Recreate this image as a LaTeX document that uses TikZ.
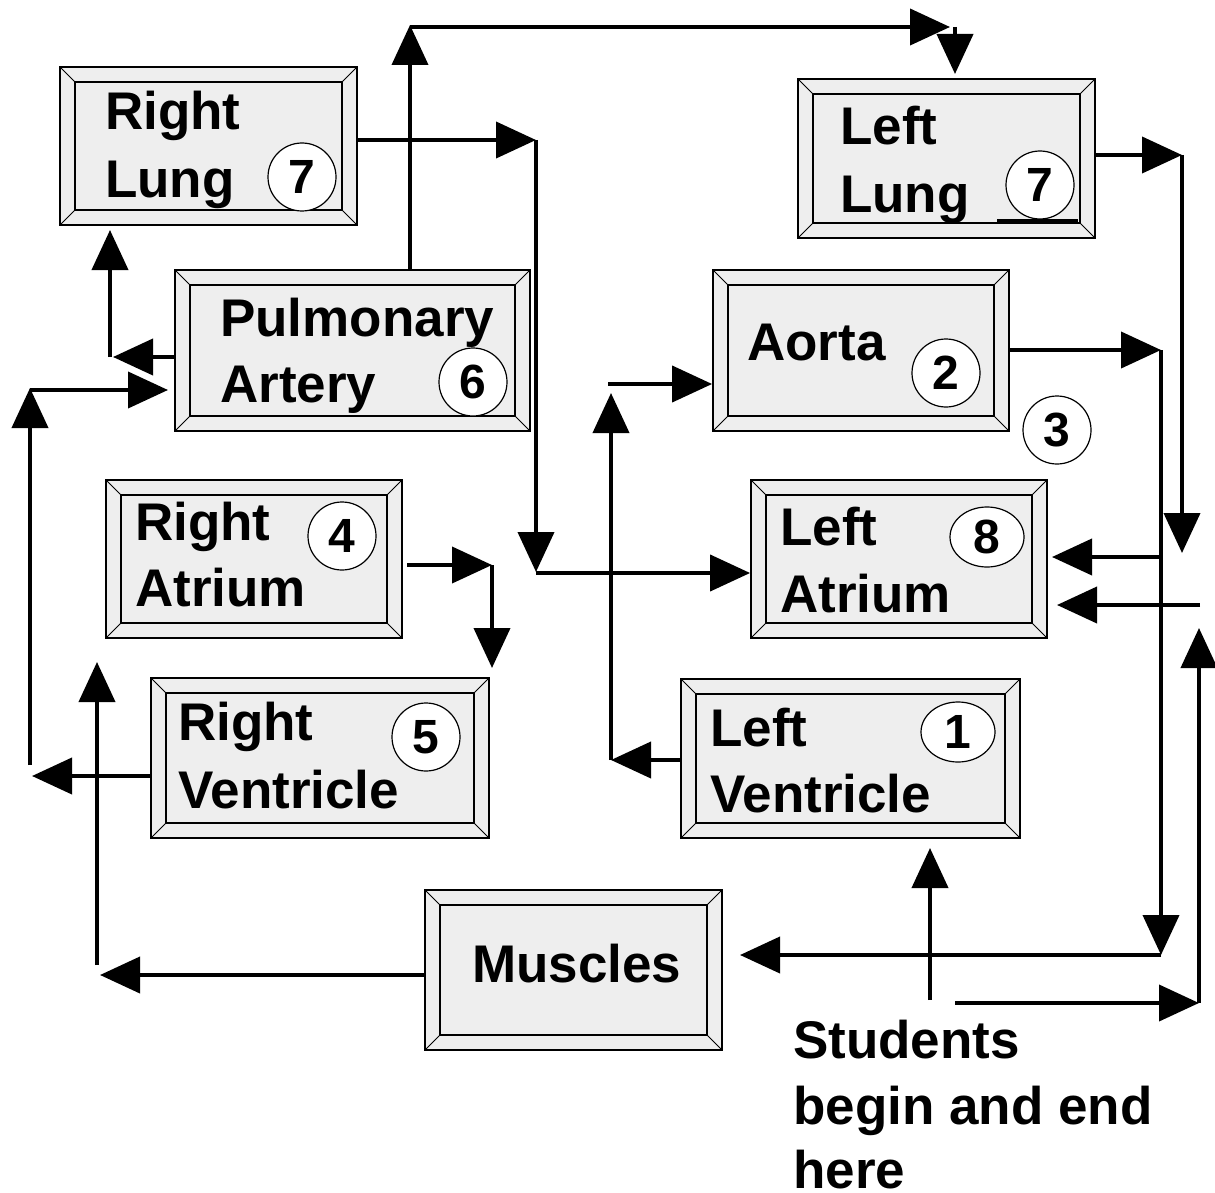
\documentclass[tikz,border=0pt]{standalone}
\usepackage{fontspec}
\setmainfont{Liberation Sans}
\usetikzlibrary{arrows.meta,shapes.geometric}
\definecolor{boxgray}{HTML}{EEEEEE}
\tikzset{
  organ/.style={draw, line width=1.8pt, fill=boxgray, inner sep=0pt,
    path picture={
      \draw[line width=1.8pt]
        ([shift={(15pt,15pt)}]path picture bounding box.south west) rectangle
        ([shift={(-15pt,-15pt)}]path picture bounding box.north east);
      \draw[line width=0.9pt]
        (path picture bounding box.south west) -- ([shift={(15pt,15pt)}]path picture bounding box.south west)
        (path picture bounding box.north east) -- ([shift={(-15pt,-15pt)}]path picture bounding box.north east)
        (path picture bounding box.north west) -- ([shift={(15pt,-15pt)}]path picture bounding box.north west)
        (path picture bounding box.south east) -- ([shift={(-15pt,15pt)}]path picture bounding box.south east);
    }},
  lbl/.style={anchor=base west, inner sep=0pt, font=\fontsize{53}{60}\selectfont\bfseries},
  num/.style={circle, draw, line width=1.2pt, fill=white, minimum size=68pt, inner sep=0pt,
    font=\fontsize{48}{48}\selectfont\bfseries},
  numoval/.style={ellipse, draw, line width=1.2pt, fill=white, minimum width=74pt, minimum height=60pt,
    inner sep=0pt, font=\fontsize{48}{48}\selectfont\bfseries},
  conn/.style={line width=4pt, -{Triangle[length=40pt,width=36pt]}},
}
\begin{document}
\begin{tikzpicture}[x=1pt,y=-1pt]
\useasboundingbox (0,0) rectangle (1215,1193);

% boxes
\node[organ, minimum width=297pt, minimum height=158pt] (RL) at (208.5,146) {};
\node[organ, minimum width=355pt, minimum height=161pt] (PA) at (352.5,350.5) {};
\node[organ, minimum width=297pt, minimum height=159pt] (LL) at (946.5,158.5) {};
\node[organ, minimum width=296pt, minimum height=161pt] (Ao) at (861,350.5) {};
\node[organ, minimum width=296pt, minimum height=158pt] (RA) at (254,559) {};
\node[organ, minimum width=296pt, minimum height=158pt] (LA) at (899,559) {};
\node[organ, minimum width=338pt, minimum height=160pt] (RV) at (320,758) {};
\node[organ, minimum width=339pt, minimum height=159pt] (LV) at (850.5,758.5) {};
\node[organ, minimum width=297pt, minimum height=160pt] (Mu) at (573.5,970) {};

% left lung underline mark
\draw[line width=3pt] (997,221) -- (1078,221);

% labels
\node[lbl] (RLa) at (105,130) {Right};
\node[lbl] (RLb) at (105,197) {Lung};
\node[lbl] (PAa) at (220,336) {Pulmonary};
\node[lbl] (PAb) at (220,402) {Artery};
\node[lbl] (LLa) at (840,145) {Left};
\node[lbl] (LLb) at (840,212) {Lung};
\node[lbl] (Aoa) at (747,360) {Aorta};
\node[lbl] (RAa) at (135,540) {Right};
\node[lbl] (RAb) at (135,606) {Atrium};
\node[lbl] (LAa) at (780,545) {Left};
\node[lbl] (LAb) at (780,612) {Atrium};
\node[lbl] (RVa) at (178,740) {Right};
\node[lbl] (RVb) at (178,808) {Ventricle};
\node[lbl] (LVa) at (710,746) {Left};
\node[lbl] (LVb) at (710,812) {Ventricle};
\node[lbl] (Mua) at (472,982) {Muscles};
\node[lbl] (St1) at (793,1058) {Students};
\node[lbl] (St2) at (793,1124) {begin and end};
\node[lbl] (St3) at (793,1188) {here};

% numbers
\node[num] (n7a) at (302,177) {7};
\node[num] (n6) at (473,382) {6};
\node[num] (n7b) at (1040,185) {7};
\node[num] (n2) at (946,373) {2};
\node[num] (n3) at (1057,430) {3};
\node[num] (n4) at (342,536) {4};
\node[numoval] (n8) at (987,537) {8};
\node[num] (n5) at (426,737) {5};
\node[numoval] (n1) at (958,732) {1};

% coordinates
\coordinate (a1) at (410,25);
\coordinate (a2) at (950,27);
\coordinate (a3) at (955,74);
\coordinate (b1) at (536,140);
\coordinate (b2) at (536,572);
\coordinate (b3) at (536,573);
\coordinate (c1) at (110,357);
\coordinate (c1t) at (113,357);
\coordinate (c2) at (110,230);
\coordinate (d1) at (30,765);
\coordinate (d2) at (30,388);
\coordinate (d3) at (168,390);
\coordinate (e1) at (32,776);
\coordinate (f1) at (100,975);
\coordinate (f2) at (97,965);
\coordinate (f3) at (97,662);
\coordinate (g0) at (407,565);
\coordinate (g1) at (492,565);
\coordinate (g2) at (492,668);
\coordinate (h1) at (611,760);
\coordinate (h2) at (611,393);
\coordinate (h3) at (608,384);
\coordinate (i1) at (1161,350);
\coordinate (i2) at (1161,955);
\coordinate (i3) at (740,955);
\coordinate (i4) at (1161,557);
\coordinate (i5) at (1052,557);
\coordinate (j1) at (1182,155);
\coordinate (j2) at (1182,553);
\coordinate (k1) at (1200,605);
\coordinate (k2) at (1057,605);
\coordinate (l1) at (955,1003);
\coordinate (l2) at (1199,1003);
\coordinate (l3) at (1199,628);
\coordinate (m1) at (930,1000);
\coordinate (m2) at (930,848);

% connectors
\draw[conn] (PA.north -| a1) -- (a1);
\draw[conn] (a1 |- a2) -- (a2);
\draw[conn] (a2 -| a3) -- (a3);

\draw[conn] (RL.east |- b1) -- (b1);
\draw[conn] (b1) -- (b2);
\draw[conn] (b3) -- (LA.west |- b3);

\draw[conn] (PA.west |- c1) -- (c1t);
\draw[conn] (c1) -- (c2);

\draw[conn] (d1) -- (d2);
\draw[conn] (d2 |- d3) -- (d3);

\draw[conn] (RV.west |- e1) -- (e1);

\draw[conn] (Mu.west |- f1) -- (f1);
\draw[conn] (f2) -- (f3);

\draw[conn] (g0) -- (g1);
\draw[conn] (g1) -- (g2);

\draw[conn] (LV.west |- h1) -- (h1);
\draw[conn] (h1) -- (h2);
\draw[conn] (h3) -- (Ao.west |- h3);

\draw[conn] (Ao.east |- i1) -- (i1);
\draw[conn] (i1) -- (i2);
\draw[conn] (i2 |- i3) -- (i3);
\draw[conn] (i4) -- (i5);

\draw[conn] (LL.east |- j1) -- (j1);
\draw[conn] (j1) -- (j2);

\draw[conn] (k1) -- (k2);

\draw[conn] (l1) -- (l2);
\draw[conn] (l2) -- (l3);

\draw[conn] (m1) -- (m2);
\end{tikzpicture}
\end{document}
